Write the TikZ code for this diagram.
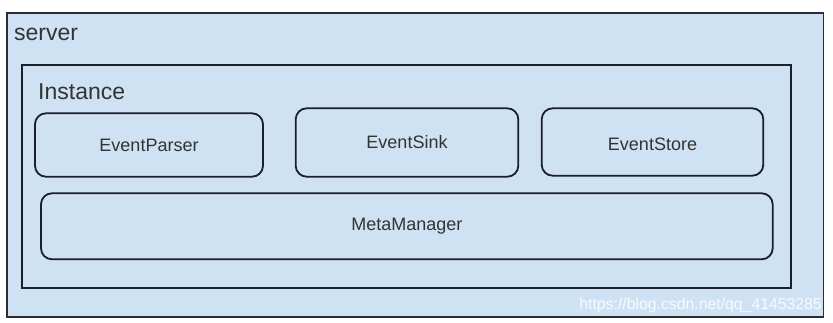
\documentclass[tikz,border=0pt]{standalone}
\usepackage{fontspec}
\setmainfont{Liberation Sans}
\definecolor{boxfill}{HTML}{CFE2F3}
\definecolor{boxline}{HTML}{1B1F2A}
\definecolor{txt}{HTML}{333333}
\begin{document}
\begin{tikzpicture}[x=1pt,y=-1pt,
  outerbox/.style={draw=boxline!85!gray,line width=1.6pt,fill=boxfill},
  instbox/.style={draw=boxline,line width=1.8pt},
  compbox/.style={draw=boxline,line width=1.8pt,rounded corners=11pt},
  lbl/.style={text=txt,font=\fontsize{18}{21}\selectfont},
  biglbl/.style={text=txt,font=\fontsize{23}{27}\selectfont,inner sep=0pt}]
\useasboundingbox (0,0) rectangle (833,322);
\draw[outerbox] (7,12.7) rectangle (823.3,316.7);
\node[biglbl,anchor=base west] (serverlbl) at (14,40) {server};
\draw[instbox] (22,65) rectangle (790.7,288);
\node[biglbl,anchor=base west] (instlbl) at (38,99) {Instance};
\draw[compbox] (35,113.3) rectangle (263,176.7);
\node[lbl] (parser) at (149,145.5) {EventParser};
\draw[compbox] (295.7,108.3) rectangle (518.3,176.7);
\node[lbl] (sink) at (407,142.5) {EventSink};
\draw[compbox] (541.7,108.3) rectangle (763.3,175.7);
\node[lbl] (store) at (652.5,144.5) {EventStore};
\draw[compbox] (41,193.3) rectangle (772.7,259.3);
\node[lbl] (meta) at (406.8,226.3) {MetaManager};
\node[anchor=base east,inner sep=0pt,text=white,opacity=0.85,font=\fontsize{15.8}{18}\selectfont] (wm) at (822,309) {https://blog.csdn.net/qq\_41453285};
\end{tikzpicture}
\end{document}
